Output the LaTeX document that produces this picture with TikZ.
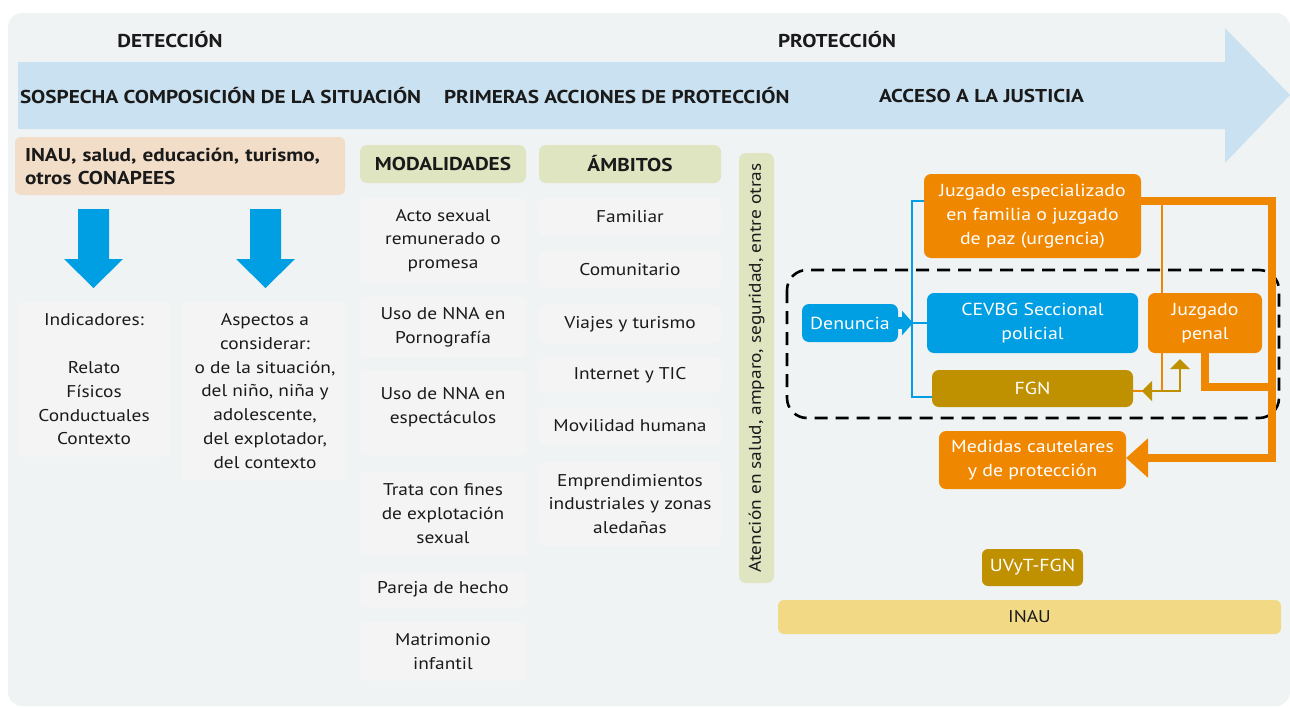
\documentclass[tikz,border=0pt]{standalone}
\usepackage{fontspec}
\setmainfont{PT Sans}[FakeStretch=1.14]
\usetikzlibrary{arrows.meta}
\definecolor{bgpanel}{RGB}{239,243,244}
\definecolor{bandc}{RGB}{201,225,240}
\definecolor{peach}{RGB}{242,222,200}
\definecolor{greenc}{RGB}{222,229,192}
\definecolor{itemc}{RGB}{244,244,244}
\definecolor{cblue}{RGB}{0,158,226}
\definecolor{corange}{RGB}{240,135,0}
\definecolor{ctan}{RGB}{191,144,0}
\definecolor{cyellow}{RGB}{241,217,134}
\definecolor{txt}{RGB}{26,26,26}
\begin{document}
\begin{tikzpicture}[x=1pt,y=-1pt,
  every node/.style={inner sep=0pt, outer sep=0pt, text=txt},
  bodyf/.style={font=\fontsize{17}{23.8}\selectfont},
  headf/.style={font=\bfseries\fontsize{18.6}{23}\selectfont},
  boxf/.style={font=\fontsize{17.4}{24}\selectfont},
  itembox/.style={bodyf, fill=itemc, rounded corners=5pt, anchor=north west, align=center},
  greenhead/.style={headf, fill=greenc, rounded corners=7pt, anchor=north west},
  colbox/.style={boxf, rounded corners=7pt, anchor=north west, align=center, text=white},
  bline/.style={draw=cblue, line width=2pt},
  othick/.style={draw=corange, line width=8pt},
  othin/.style={draw=corange, line width=2.3pt},
  tanl/.style={draw=ctan, line width=2.3pt}]
\useasboundingbox (0,0) rectangle (1290,707);
\fill[white] (0,0) rectangle (1290,707);
\fill[bgpanel, rounded corners=14pt] (8,13) rectangle (1290,706);
% big band arrow
\fill[bandc] (18,62) -- (1225,62) -- (1225,28) -- (1290,95) -- (1225,163) -- (1225,129) -- (18,129) -- cycle;
% headings
\node[headf] (det) at (170,40) {DETECCIÓN};
\node[headf] (prot) at (837,40) {PROTECCIÓN};
\node[headf, anchor=west] (sosp) at (20,96) {SOSPECHA COMPOSICIÓN DE LA SITUACIÓN};
\node[headf, anchor=west] (prim) at (444,96) {PRIMERAS ACCIONES DE PROTECCIÓN};
\node[headf, anchor=west] (acc) at (879,96) {ACCESO A LA JUSTICIA};
% left column
\node[headf, fill=peach, rounded corners=6pt, anchor=north west, minimum width=330pt, minimum height=58pt, text width=310pt, align=left] (inau) at (15,137) {INAU, salud, educación, turismo,\\otros CONAPEES};
\fill[cblue] (78,209) -- (109,209) -- (109,259) -- (123,259) -- (93.5,288) -- (64,259) -- (78,259) -- cycle;
\fill[cblue] (250,209) -- (281,209) -- (281,259) -- (295,259) -- (265.5,288) -- (236,259) -- (250,259) -- cycle;
\node[itembox, minimum width=152pt, minimum height=155pt] (ind) at (18,302) {Indicadores:\\\mbox{}\\Relato\\Físicos\\Conductuales\\Contexto};
\node[itembox, minimum width=166pt, minimum height=178pt] (asp) at (182,302) {Aspectos a\\considerar:\\o de la situación,\\del niño, niña y\\adolescente,\\del explotador,\\del contexto};
% modalidades
\node[greenhead, minimum width=166pt, minimum height=38pt] (mod) at (360,145) {MODALIDADES};
\node[itembox, minimum width=166pt, minimum height=85pt] (m1) at (360,198) {Acto sexual\\remunerado o\\promesa};
\node[itembox, minimum width=166pt, minimum height=61pt] (m2) at (360,297) {Uso de NNA en\\Pornografía};
\node[itembox, minimum width=166pt, minimum height=85pt] (m3) at (360,370) {Uso de NNA en\\espectáculos\\[-10pt]\mbox{}};
\node[itembox, minimum width=166pt, minimum height=83pt] (m4) at (360,472) {Trata con fines\\de explotación\\sexual};
\node[itembox, minimum width=166pt, minimum height=35pt] (m5) at (360,572) {Pareja de hecho};
\node[itembox, minimum width=166pt, minimum height=59pt] (m6) at (360,622) {Matrimonio\\infantil};
% ambitos
\node[greenhead, minimum width=182pt, minimum height=38pt] (amb) at (539,145) {ÁMBITOS};
\node[itembox, minimum width=182pt, minimum height=38pt] (a1) at (539,198) {Familiar};
\node[itembox, minimum width=182pt, minimum height=37pt] (a2) at (539,251) {Comunitario};
\node[itembox, minimum width=182pt, minimum height=38pt] (a3) at (539,305) {Viajes y turismo};
\node[itembox, minimum width=182pt, minimum height=36pt] (a4) at (539,357) {Internet y TIC};
\node[itembox, minimum width=182pt, minimum height=38pt] (a5) at (539,407) {Movilidad humana};
\node[itembox, minimum width=182pt, minimum height=84pt] (a6) at (539,462) {Emprendimientos\\industriales y zonas\\aledañas};
% vertical green
\node[bodyf, fill=greenc, rounded corners=7pt, rotate=90, minimum width=430pt, minimum height=35pt] (aten) at (756.5,368) {Atención en salud, amparo, seguridad, entre otras};
% dashed region
\draw[line width=2.6pt, dash pattern=on 13pt off 8pt, rounded corners=20pt] (787,270) rectangle (1279,418);
% coordinates
\coordinate (vtop) at (912,201);
\coordinate (vmid) at (912,323);
\coordinate (vbot) at (912,397);
\coordinate (otr) at (1272,201);
\coordinate (obr) at (1272,458);
\coordinate (pmid) at (1205,387);
\coordinate (pright) at (1272,387);
\coordinate (thtop) at (1162,201);
\coordinate (thbot) at (1162,391);
\coordinate (tantip) at (1142,391);
\coordinate (tancorner) at (1180,391);
\coordinate (tanup) at (1180,359);
% thin orange behind boxes
\draw[othin] (thtop) -- (thbot) -- (1133,391);
% nodes
\node[colbox, fill=corange, minimum width=217pt, minimum height=84pt] (jesp) at (924,174) {Juzgado especializado\\en familia o juzgado\\de paz (urgencia)};
\node[colbox, fill=cblue, minimum width=96pt, minimum height=38pt] (den) at (802,304) {Denuncia};
\node[colbox, fill=cblue, minimum width=211pt, minimum height=60pt] (cev) at (927,293) {CEVBG Seccional\\policial};
\node[colbox, fill=corange, minimum width=114pt, minimum height=60pt] (pen) at (1148,293) {Juzgado\\penal};
\node[colbox, fill=ctan, minimum width=201pt, minimum height=37pt] (fgn) at (932,370) {FGN};
\node[colbox, fill=corange, minimum width=187pt, minimum height=58pt] (med) at (939,431) {Medidas cautelares\\y de protección};
\node[colbox, fill=ctan, minimum width=101pt, minimum height=37pt, rounded corners=6pt] (uvyt) at (982,549) {UVyT-FGN};
\node[bodyf, fill=cyellow, rounded corners=6pt, anchor=north west, minimum width=503pt, minimum height=34pt] (inaub) at (778,600) {INAU};
% blue connectors
\draw[bline] (jesp.west |- vtop) -- (vtop) -- (vbot) -- (fgn.west |- vbot);
\draw[bline] (vmid) -- (cev.west |- vmid);
\draw[cblue, line width=12pt, -{Triangle[length=11pt,width=24pt]}] (den.east) -- (913,323);
% orange connectors
\draw[othick, -{Triangle[length=22pt,width=38pt]}] (jesp.east |- otr) -- (otr) -- (obr) -- (med.east |- obr);
\draw[othick] (pen.south) -- (pmid) -- (pright);
% tan connector
\draw[tanl, {Triangle[length=10pt,width=20pt]}-{Triangle[length=10pt,width=19pt]}] (tantip) -- (tancorner) -- (tanup);
\end{tikzpicture}
\end{document}
